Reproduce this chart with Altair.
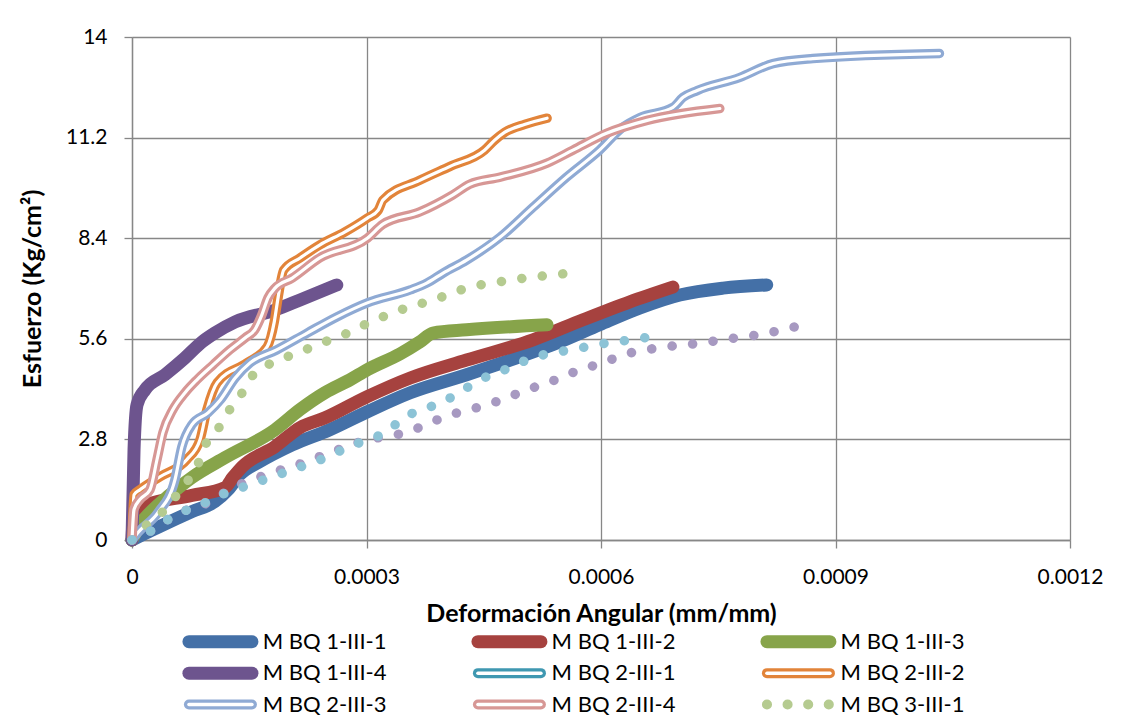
import altair as alt
import pandas as pd

# ---------------- data ----------------
x_ticks = [0, 0.0003, 0.0006, 0.0009, 0.0012]
y_ticks = [0, 2.8, 5.6, 8.4, 11.2, 14]

bq1_1_x = [0, 1.66e-5, 3.58e-5, 7.67e-5, 1.06e-4, 1.23e-4, 1.38e-4, 1.61e-4, 2.05e-4, 2.53e-4,
           3.01e-4, 3.56e-4, 4.28e-4, 4.92e-4, 5.47e-4, 5.98e-4, 6.50e-4, 7.01e-4, 7.56e-4, 8.12e-4]
bq1_1_y = [0, 0.18, 0.38, 0.79, 1.07, 1.40, 1.82, 2.15, 2.65, 3.07,
           3.57, 4.10, 4.60, 5.07, 5.51, 5.99, 6.46, 6.82, 7.01, 7.10]

bq1_2_x = [0, 2.6e-6, 1.66e-5, 7.67e-5, 1.19e-4, 1.29e-4, 1.41e-4, 1.83e-4, 2.15e-4, 2.47e-4,
           3.01e-4, 3.56e-4, 4.28e-4, 5.13e-4, 5.77e-4, 6.37e-4, 6.92e-4]
bq1_2_y = [0, 0.79, 0.96, 1.24, 1.46, 1.74, 2.04, 2.60, 3.13, 3.40,
           3.99, 4.51, 5.01, 5.57, 6.13, 6.63, 7.04]

bq1_3_x = [0, 1.0e-5, 2.3e-5, 4.86e-5, 7.67e-5, 1.19e-4, 1.83e-4, 2.15e-4, 2.47e-4, 2.79e-4,
           3.01e-4, 3.43e-4, 3.68e-4, 3.85e-4, 4.28e-4, 5.31e-4]
bq1_3_y = [0, 0.43, 0.76, 1.26, 1.74, 2.29, 3.07, 3.63, 4.10, 4.46,
           4.74, 5.18, 5.51, 5.76, 5.85, 5.99]

bq1_4_x = [0, 2.6e-6, 6.4e-6, 1.66e-5, 4.22e-5, 6.78e-5, 8.95e-5, 1.06e-4, 1.32e-4, 1.83e-4,
           2.15e-4, 2.62e-4]
bq1_4_y = [0, 2.51, 3.76, 4.18, 4.60, 5.07, 5.51, 5.76, 6.07, 6.40,
           6.68, 7.10]

bq2_2_x = [0, 2.6e-6, 1.02e-5, 3.58e-5, 7.03e-5, 8.70e-5, 9.59e-5, 1.09e-4, 1.47e-4, 1.73e-4,
           1.82e-4, 1.87e-4, 1.94e-4, 2.15e-4, 2.40e-4, 2.72e-4, 3.01e-4, 3.15e-4, 3.21e-4, 3.68e-4,
           4.07e-4, 4.51e-4, 4.64e-4, 4.77e-4, 5.03e-4, 5.31e-4]
bq2_2_y = [0, 1.26, 1.40, 1.76, 2.24, 2.79, 3.63, 4.38, 4.93, 5.38,
           6.07, 6.76, 7.51, 7.85, 8.21, 8.57, 8.96, 9.18, 9.46, 10.01,
           10.40, 10.85, 11.13, 11.35, 11.57, 11.74]

bq2_3_x = [0, 7.7e-6, 3.32e-5, 5.5e-5, 6.39e-5, 7.67e-5, 9.72e-5, 1.13e-4, 1.32e-4, 1.51e-4,
           1.85e-4, 2.24e-4, 2.62e-4, 3.01e-4, 3.56e-4, 3.77e-4, 3.98e-4, 4.28e-4, 4.71e-4, 5.13e-4,
           5.56e-4, 5.98e-4, 6.28e-4, 6.50e-4, 6.92e-4, 7.05e-4, 7.23e-4, 7.77e-4, 8.20e-4, 8.71e-4,
           1.033e-3]
bq2_3_y = [0, 0.21, 0.76, 1.68, 2.60, 3.21, 3.54, 3.90, 4.51, 4.93,
           5.29, 5.76, 6.21, 6.60, 6.96, 7.15, 7.43, 7.79, 8.43, 9.26,
           10.10, 10.85, 11.49, 11.76, 12.04, 12.32, 12.51, 12.87, 13.26, 13.40,
           13.54]

bq2_4_x = [0, 2.6e-6, 1.02e-5, 2.3e-5, 3.2e-5, 3.96e-5, 5.24e-5, 6.78e-5, 8.31e-5, 1.04e-4,
           1.25e-4, 1.45e-4, 1.57e-4, 1.66e-4, 1.74e-4, 1.83e-4, 2.05e-4, 2.40e-4, 3.01e-4, 3.21e-4,
           3.68e-4, 4.10e-4, 4.32e-4, 4.71e-4, 5.31e-4, 5.64e-4, 6.07e-4, 6.59e-4, 7.52e-4]
bq2_4_y = [0, 0.85, 1.13, 1.40, 2.24, 2.99, 3.63, 4.10, 4.46, 4.88,
           5.29, 5.63, 5.85, 6.26, 6.74, 7.01, 7.29, 7.85, 8.40, 8.79,
           9.13, 9.60, 9.90, 10.10, 10.49, 10.85, 11.32, 11.68, 12.01]

bq3_1_x = [0, 1.92e-5, 3.96e-5, 5.75e-5, 7.42e-5, 8.7e-5, 9.59e-5, 1.13e-4, 1.25e-4, 1.42e-4,
           1.55e-4, 1.79e-4, 2.02e-4, 2.28e-4, 2.53e-4, 2.79e-4, 3.02e-4, 3.30e-4, 3.55e-4, 3.81e-4,
           4.07e-4, 4.32e-4, 4.60e-4, 4.86e-4, 5.13e-4, 5.41e-4, 5.68e-4]
bq3_1_y = [0, 0.43, 0.79, 1.26, 1.74, 2.24, 2.74, 3.18, 3.63, 4.13,
           4.60, 4.93, 5.13, 5.35, 5.57, 5.79, 6.04, 6.29, 6.49, 6.65,
           6.85, 7.04, 7.15, 7.24, 7.32, 7.38, 7.46]

bq3_2_x = [0, 2.3e-5, 4.6e-5, 7.16e-5, 9.72e-5, 1.21e-4, 1.47e-4, 1.73e-4, 1.98e-4, 2.24e-4,
           2.49e-4, 2.75e-4, 3.01e-4, 3.26e-4, 3.53e-4, 3.79e-4, 4.04e-4, 4.32e-4, 4.58e-4, 4.83e-4,
           5.09e-4, 5.35e-4, 5.60e-4, 5.86e-4, 6.11e-4, 6.38e-4, 6.65e-4, 6.92e-4, 7.19e-4, 7.46e-4,
           7.74e-4, 8.01e-4, 8.26e-4, 8.53e-4]
bq3_2_y = [0, 0.24, 0.57, 0.85, 1.04, 1.35, 1.63, 1.82, 2.01, 2.18,
           2.40, 2.60, 2.79, 2.88, 3.01, 3.24, 3.46, 3.63, 3.79, 3.99,
           4.21, 4.40, 4.63, 4.82, 5.01, 5.21, 5.32, 5.40, 5.46, 5.54,
           5.63, 5.71, 5.82, 5.96]

bq3_3_x = [0, 2.3e-5, 4.6e-5, 7.16e-5, 9.72e-5, 1.21e-4, 1.47e-4, 1.73e-4, 1.98e-4, 2.24e-4,
           2.51e-4, 2.75e-4, 3.01e-4, 3.26e-4, 3.47e-4, 3.72e-4, 3.98e-4, 4.22e-4, 4.45e-4, 4.71e-4,
           4.96e-4, 5.22e-4, 5.47e-4, 5.75e-4, 6.01e-4, 6.28e-4, 6.56e-4]
bq3_3_y = [0, 0.24, 0.57, 0.85, 1.07, 1.32, 1.51, 1.71, 1.90, 2.10,
           2.32, 2.57, 2.79, 3.01, 3.40, 3.63, 3.85, 4.15, 4.46, 4.68,
           4.93, 5.13, 5.24, 5.35, 5.46, 5.54, 5.63]

series_data = {
    "M BQ 1-III-1": (bq1_1_x, bq1_1_y),
    "M BQ 1-III-2": (bq1_2_x, bq1_2_y),
    "M BQ 1-III-3": (bq1_3_x, bq1_3_y),
    "M BQ 1-III-4": (bq1_4_x, bq1_4_y),
    "M BQ 2-III-2": (bq2_2_x, bq2_2_y),
    "M BQ 2-III-3": (bq2_3_x, bq2_3_y),
    "M BQ 2-III-4": (bq2_4_x, bq2_4_y),
    "M BQ 3-III-1": (bq3_1_x, bq3_1_y),
    "M BQ 3-III-2": (bq3_2_x, bq3_2_y),
    "M BQ 3-III-3": (bq3_3_x, bq3_3_y),
}

legend_names = ["M BQ 1-III-1", "M BQ 1-III-2", "M BQ 1-III-3",
                "M BQ 1-III-4", "M BQ 2-III-1", "M BQ 2-III-2",
                "M BQ 2-III-3", "M BQ 2-III-4", "M BQ 3-III-1"]

# ---------------- styles ----------------
styles = {
    "M BQ 1-III-1": ("solid", "#4470A7"),
    "M BQ 1-III-2": ("solid", "#A6423F"),
    "M BQ 1-III-3": ("solid", "#87A44A"),
    "M BQ 1-III-4": ("solid", "#6D548E"),
    "M BQ 2-III-1": ("double", "#3F98B1"),
    "M BQ 2-III-2": ("double", "#E2843A"),
    "M BQ 2-III-3": ("double", "#8FAAD4"),
    "M BQ 2-III-4": ("double", "#D79795"),
    "M BQ 3-III-1": ("dot", "#B5CB90"),
    "M BQ 3-III-2": ("dot", "#A799C1"),
    "M BQ 3-III-3": ("dot", "#8CC3D6"),
}
draw_order = ["M BQ 1-III-1", "M BQ 1-III-2", "M BQ 1-III-3", "M BQ 1-III-4",
              "M BQ 2-III-2", "M BQ 2-III-3", "M BQ 2-III-4",
              "M BQ 3-III-1", "M BQ 3-III-2", "M BQ 3-III-3"]

FONT = "Lato"

rows = []
for name, (xs, ys) in series_data.items():
    for i, (xv, yv) in enumerate(zip(xs, ys)):
        rows.append({"name": name, "x": xv, "y": yv, "i": i})
df = pd.DataFrame(rows)

x_enc = alt.X("x:Q", scale=alt.Scale(domain=[0, 0.0012], nice=False, zero=True),
              axis=alt.Axis(values=x_ticks, title="Deformación Angular (mm/mm)",
                            labelExpr="datum.value == 0 ? '0' : format(datum.value, '.4f')",
                            labelFlush=False, titlePadding=14, labelPadding=18))
y_enc = alt.Y("y:Q", scale=alt.Scale(domain=[0, 14], nice=False),
              axis=alt.Axis(values=y_ticks, title="Esfuerzo (Kg/cm²)",
                            labelExpr="datum.value % 1 == 0 ? format(datum.value, 'd') : format(datum.value, '.1f')",
                            labelFlush=False, titlePadding=20, labelPadding=17))

base = alt.Chart(df).encode(x=x_enc, y=y_enc, order="i:Q")

layers = []
for name in draw_order:
    style, color = styles[name]
    src = base.transform_filter(alt.datum.name == name)
    if style == "solid":
        layers.append(src.mark_line(color=color, strokeWidth=13, strokeCap="round",
                                    strokeJoin="round", interpolate="monotone"))
    elif style == "double":
        layers.append(src.mark_line(color=color, strokeWidth=9.5, strokeCap="round",
                                    strokeJoin="round", interpolate="monotone"))
        layers.append(src.mark_line(color="white", strokeWidth=3.2, strokeCap="round",
                                    strokeJoin="round", interpolate="monotone"))
    else:
        layers.append(src.mark_line(color=color, strokeWidth=9.5, strokeCap="round",
                                    strokeDash=[0.1, 20.5], interpolate="monotone"))

main = alt.layer(*layers).properties(width=938, height=503)

# ---------------- legend panel ----------------
leg_df = pd.DataFrame({
    "name": legend_names,
    "col": [0, 1, 2, 0, 1, 2, 0, 1, 2],
    "row": [0, 0, 0, 1, 1, 1, 2, 2, 2],
})
leg_colors = [styles[n][1] for n in legend_names]
solid_names = [n for n in legend_names if styles[n][0] == "solid"]
double_names = [n for n in legend_names if styles[n][0] == "double"]
dot_names = [n for n in legend_names if styles[n][0] == "dot"]

lscale = alt.Scale(domain=[0, 3.2457], nice=False, zero=False)
lx = alt.X("x0:Q", scale=lscale, axis=None)
ly = alt.Y("row:Q", scale=alt.Scale(domain=[-0.5, 2.3], reverse=True, nice=False, zero=False),
           axis=None)
lcolor = alt.Color("name:N", scale=alt.Scale(domain=legend_names, range=leg_colors), legend=None)

leg_base = alt.Chart(leg_df).transform_calculate(
    x0="datum.col + 0.197", x1="datum.col + 0.415", xt="datum.col + 0.452"
)

leg_solid = leg_base.transform_filter(
    alt.FieldOneOfPredicate(field="name", oneOf=solid_names)
).mark_rule(strokeWidth=13, strokeCap="round").encode(x=lx, x2="x1:Q", y=ly, color=lcolor)

leg_double_a = leg_base.transform_filter(
    alt.FieldOneOfPredicate(field="name", oneOf=double_names)
).mark_rule(strokeWidth=10, strokeCap="round").encode(x=lx, x2="x1:Q", y=ly, color=lcolor)

leg_double_b = leg_base.transform_filter(
    alt.FieldOneOfPredicate(field="name", oneOf=double_names)
).mark_rule(strokeWidth=3.5, strokeCap="round", color="white").encode(x=lx, x2="x1:Q", y=ly)

leg_dot = leg_base.transform_filter(
    alt.FieldOneOfPredicate(field="name", oneOf=dot_names)
).mark_rule(strokeWidth=10, strokeCap="round", strokeDash=[0.1, 20.5]).encode(
    x=lx, x2="x1:Q", y=ly, color=lcolor)

leg_text = leg_base.mark_text(align="left", baseline="middle", fontSize=22, font=FONT,
                              color="black").encode(
    x=alt.X("xt:Q", scale=lscale, axis=None), y=ly, text="name:N")

legend = alt.layer(leg_solid, leg_double_a, leg_double_b, leg_dot, leg_text).properties(
    width=938, height=88)

chart = alt.vconcat(main, legend, spacing=0).configure(
    padding={"left": 12, "top": 18, "right": 5, "bottom": 0},
    font=FONT,
).configure_view(stroke=None).configure_axis(
    gridColor="#878787", gridWidth=1.3, gridOpacity=1,
    domainColor="#878787", domainWidth=1.3,
    tickColor="#878787", tickSize=8, tickWidth=1.3,
    labelFont=FONT, labelFontSize=21, labelColor="black",
    titleFont=FONT, titleFontSize=25, titleFontWeight="bold", titleColor="black",
)

chart.save("out.html", embed_options={"renderer": "svg", "actions": False})
